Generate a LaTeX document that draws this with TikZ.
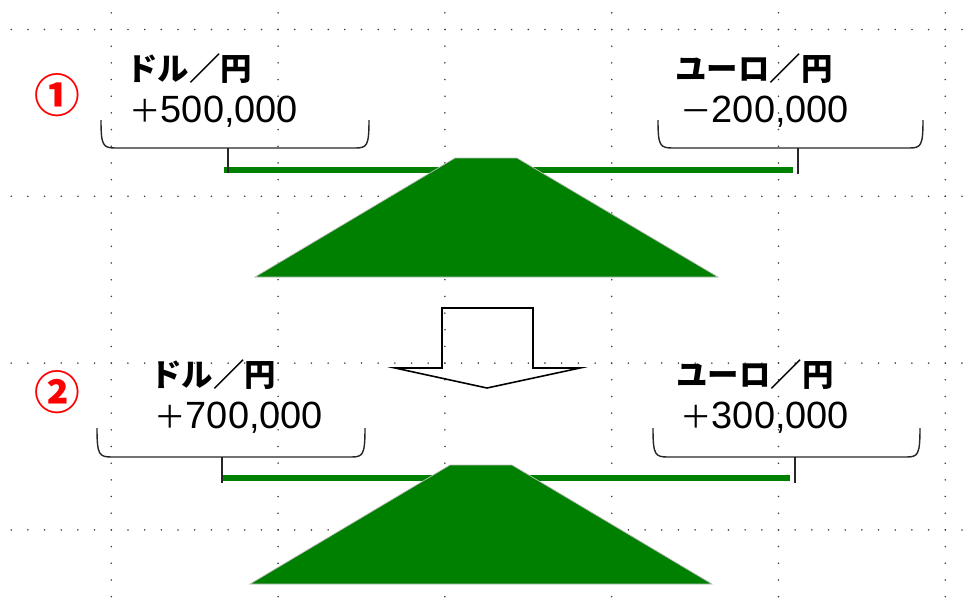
\documentclass[tikz,border=0pt]{standalone}
\usepackage{fontspec}
\newfontfamily\jpfont{Noto Sans CJK JP}
\newfontfamily\numfont{Liberation Sans}
\definecolor{waage}{RGB}{0,128,0}
\newcommand\betrag[2]{{\jpfont\fontsize{17.9pt}{20pt}\selectfont #1}{\numfont #2}}
\tikzset{
  gridpt/.style={fill=black!75},
  klammer/.style={line width=0.8pt, black!85},
  balken/.style={line width=3.4pt, waage},
  sockel/.style={fill=waage, draw=black!25, line width=0.4pt},
  waehrung/.style={anchor=base west, inner sep=0pt, font=\jpfont\bfseries\fontsize{17.9pt}{20pt}\selectfont},
  betragtxt/.style={anchor=base west, inner sep=0pt, font=\fontsize{21.6pt}{24pt}\selectfont},
  nummer/.style={anchor=base, inner sep=0pt, text=red, font=\jpfont\bfseries\fontsize{26pt}{28pt}\selectfont},
}
\begin{document}
\begin{tikzpicture}[x=0.02cm, y=-0.02cm]
\useasboundingbox ( 0, 0 ) rectangle ( 975, 600 );

% Raster
\foreach \i in {0,...,5}
  \foreach \j in {-1,...,34}
    \fill[gridpt] ( 111.3+166.8*\i, 29.5+16.68*\j ) circle ( 0.5pt );
\foreach \i in {0,...,3}
  \foreach \j in {-6,...,51}
    \fill[gridpt] ( 111.3+16.68*\j, 29.5+166.8*\i ) circle ( 0.5pt );

% Waage 1
\node[nummer] (nrA) at ( 57, 112 ) {①};
\node[waehrung] (usdA) at ( 126, 80 ) {ドル／円};
\node[betragtxt] (usdAbetrag) at ( 129, 122 ) {\betrag{＋}{500,000}};
\node[waehrung] (eurA) at ( 675, 80 ) {ユーロ／円};
\node[betragtxt] (eurAbetrag) at ( 680, 122 ) {\betrag{－}{200,000}};

\draw[klammer] ( 101, 120 ) .. controls ( 101, 146 ) and ( 103, 148 ) .. ( 116, 148 )
  -- ( 355, 148 ) .. controls ( 367, 148 ) and ( 369, 146 ) .. ( 369, 120 );
\draw[klammer] ( 658, 120 ) .. controls ( 658, 146 ) and ( 660, 148 ) .. ( 673, 148 )
  -- ( 909, 148 ) .. controls ( 921, 148 ) and ( 923, 146 ) .. ( 923, 120 );

\coordinate (klA-l) at ( 228, 148 );
\coordinate (klA-r) at ( 798, 148 );
\coordinate (tickA-l) at ( 228, 173 );
\coordinate (tickA-r) at ( 798, 174 );
\coordinate (balkenA-l) at ( 224, 170 );
\coordinate (balkenA-r) at ( 793, 170 );

\draw[balken] (balkenA-l) -- (balkenA-r);
\draw[klammer] (klA-l) -- (tickA-l);
\draw[klammer] (klA-r) -- (tickA-r);
\draw[sockel] ( 455, 158 ) -- ( 517, 158 ) -- ( 718, 277 ) -- ( 255, 277 ) -- cycle;

% Pfeil
\draw[line width=0.9pt, line join=miter] ( 442, 308 ) -- ( 533, 308 ) -- ( 533, 368 ) -- ( 580, 368 )
  -- ( 487, 388 ) -- ( 395, 368 ) -- ( 442, 368 ) -- cycle;

% Waage 2
\node[nummer] (nrB) at ( 57, 409 ) {②};
\node[waehrung] (usdB) at ( 150, 386 ) {ドル／円};
\node[betragtxt] (usdBbetrag) at ( 154, 428 ) {\betrag{＋}{700,000}};
\node[waehrung] (eurB) at ( 676, 386 ) {ユーロ／円};
\node[betragtxt] (eurBbetrag) at ( 680, 428 ) {\betrag{＋}{300,000}};

\draw[klammer] ( 97, 428 ) .. controls ( 97, 455 ) and ( 99, 457 ) .. ( 112, 457 )
  -- ( 351, 457 ) .. controls ( 363, 457 ) and ( 365, 455 ) .. ( 365, 428 );
\draw[klammer] ( 653, 428 ) .. controls ( 653, 455 ) and ( 655, 457 ) .. ( 668, 457 )
  -- ( 906, 457 ) .. controls ( 918, 457 ) and ( 920, 455 ) .. ( 920, 428 );

\coordinate (klB-l) at ( 222, 457 );
\coordinate (klB-r) at ( 795, 457 );
\coordinate (tickB-l) at ( 222, 483 );
\coordinate (tickB-r) at ( 795, 483 );
\coordinate (balkenB-l) at ( 222, 478 );
\coordinate (balkenB-r) at ( 790, 478 );

\draw[balken] (balkenB-l) -- (balkenB-r);
\draw[klammer] (klB-l) -- (tickB-l);
\draw[klammer] (klB-r) -- (tickB-r);
\draw[sockel] ( 450, 465 ) -- ( 512, 465 ) -- ( 712, 584 ) -- ( 250, 584 ) -- cycle;

\end{tikzpicture}
\end{document}
